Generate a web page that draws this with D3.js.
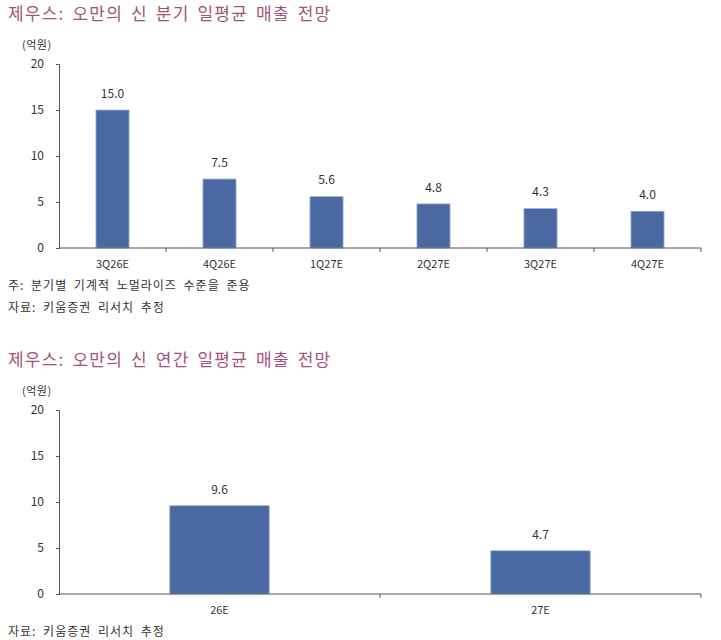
<!DOCTYPE html>
<html>
<head>
<meta charset="utf-8">
<script src="https://cdn.jsdelivr.net/npm/d3@7"></script>
<style>
  body { margin: 0; background: #fff; }
  text { font-family: "Noto Sans CJK KR", sans-serif; }
</style>
</head>
<body>
<svg id="chart" width="721" height="640"></svg>
<script>
// quarterly daily-average revenue (억원)
const quarters = ["3Q26E", "4Q26E", "1Q27E", "2Q27E", "3Q27E", "4Q27E"];
const quarterValues = [15.0, 7.5, 5.6, 4.8, 4.3, 4.0];

// annual daily-average revenue (억원)
const years = ["26E", "27E"];
const yearValues = [9.6, 4.7];

const yTicks = [0, 5, 10, 15, 20];

const svg = d3.select("#chart");
const barColor = "#4a69a3";
const titleColor = "#a4527a";

function drawPanel(top, title, cats, vals, notes) {
    const g = svg.append("g");

    g.append("text")
        .attr("x", 8).attr("y", top + 20)
        .attr("fill", titleColor)
        .attr("font-size", 17)
        .attr("letter-spacing", 1.2)
        .attr("word-spacing", 3)
        .text(title);

    g.append("text")
        .attr("x", 22).attr("y", top + 49)
        .attr("fill", "#333")
        .attr("font-size", 11)
        .attr("letter-spacing", 0.5)
        .text("(억원)");

    const y = d3.scaleLinear().domain([0, 20]).range([top + 248, top + 64]);
    const x = d3.scaleBand().domain(cats).range([59, 701]).paddingInner(0).paddingOuter(0);
    const bw = x.bandwidth() * 0.31;

    // y axis
    const ya = g.append("g")
        .attr("transform", "translate(59,0)")
        .call(d3.axisLeft(y).tickValues(yTicks).tickSize(3).tickSizeOuter(3).tickPadding(12));
    ya.select(".domain").attr("stroke", "#555");
    ya.selectAll(".tick line").attr("stroke", "#555");
    ya.selectAll(".tick text").attr("font-size", 12).attr("fill", "#333")
        .style("font-family", "'Noto Sans CJK KR', sans-serif");

    // bars
    g.selectAll("rect.bar")
        .data(vals)
        .join("rect")
        .attr("class", "bar")
        .attr("x", (d, i) => x(cats[i]) + (x.bandwidth() - bw) / 2)
        .attr("width", bw)
        .attr("y", d => y(d))
        .attr("height", d => y(0) - y(d))
        .attr("fill", barColor)
        .attr("stroke", "#a8bbdc")
        .attr("stroke-width", 0.8);

    // value labels
    g.selectAll("text.val")
        .data(vals)
        .join("text")
        .attr("class", "val")
        .attr("x", (d, i) => x(cats[i]) + x.bandwidth() / 2)
        .attr("y", d => y(d) - 12)
        .attr("text-anchor", "middle")
        .attr("font-size", 12)
        .attr("fill", "#333")
        .text(d => d.toFixed(1));

    // x axis with boundary ticks
    g.append("line")
        .attr("x1", 59).attr("x2", 701)
        .attr("y1", y(0)).attr("y2", y(0))
        .attr("stroke", "#555");
    const bounds = cats.map(c => x(c)).concat([x.range()[1]]);
    g.selectAll("line.xt")
        .data(bounds.slice(1))
        .join("line")
        .attr("class", "xt")
        .attr("x1", d => d).attr("x2", d => d)
        .attr("y1", y(0)).attr("y2", y(0) + 4)
        .attr("stroke", "#555");
    g.selectAll("text.xl")
        .data(cats)
        .join("text")
        .attr("class", "xl")
        .attr("x", d => x(d) + x.bandwidth() / 2)
        .attr("y", y(0) + 20)
        .attr("text-anchor", "middle")
        .attr("font-size", 11)
        .attr("fill", "#333")
        .text(d => d);

    notes.forEach((n, i) => {
        g.append("text")
            .attr("x", 8).attr("y", top + 290 + i * 22)
            .attr("font-size", 12)
            .attr("letter-spacing", 1)
            .attr("word-spacing", 3)
            .attr("fill", "#333")
            .text(n);
    });
}

drawPanel(0, "제우스: 오만의 신 분기 일평균 매출 전망", quarters, quarterValues,
    ["주: 분기별 기계적 노멀라이즈 수준을 준용", "자료: 키움증권 리서치 추정"]);
drawPanel(346, "제우스: 오만의 신 연간 일평균 매출 전망", years, yearValues,
    ["자료: 키움증권 리서치 추정"]);
</script>
</body>
</html>
